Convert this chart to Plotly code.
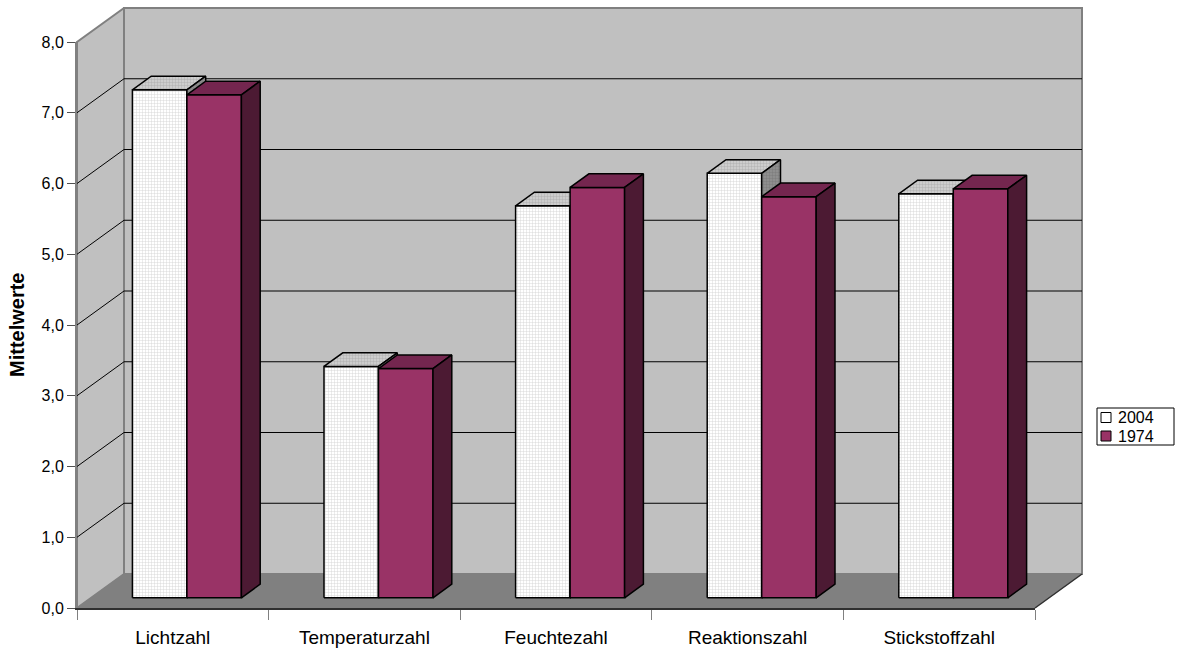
import plotly.graph_objects as go

# ---- data ----
categories = ["Lichtzahl", "Temperaturzahl", "Feuchtezahl", "Reaktionszahl", "Stickstoffzahl"]
series_names = ["2004", "1974"]
values_2004 = [7.18, 3.27, 5.54, 6.00, 5.71]
values_1974 = [7.11, 3.24, 5.80, 5.67, 5.78]
y_ticks = [0, 1, 2, 3, 4, 5, 6, 7, 8]
y_title = "Mittelwerte"

# ---- geometry of the oblique 3D frame ----
W, H = 1181, 649
LEFT_PX, RIGHT_PX = 77, 1035      # front plane, horizontal extent
BOTTOM_PX, TOP_PX = 608, 42       # front plane, vertical extent (0 .. Y_MAX)
Y_MAX = y_ticks[-1]
N = len(categories)
px_per_cat = (RIGHT_PX - LEFT_PX) / N
px_per_val = (BOTTOM_PX - TOP_PX) / Y_MAX
DX = 47 / px_per_cat              # depth of the floor in data units
DY = 34 / px_per_val
BAR_W = 54.5 / px_per_cat
Z_FRONT, Z_BACK = 0.3, 0.7        # bars sit in the middle of the depth

FONT = "Liberation Sans, Arial, sans-serif"

# styles
WALL = "#c0c0c0"
WALL_EDGE = "#808080"
FLOOR = "#808080"
series_style = [
    dict(front=("#ffffff", "#cfcfcf"), top=("#cdcdcd", "#a8a8a8"), side=("#8e8e8e", "#767676"),
         legend="#ffffff"),
    dict(front=("#993366", None), top=("#74264f", None), side=("#4c1a33", None),
         legend="#993366"),
]

fig = go.Figure()


def polygon(xs, ys, fill, pattern_fg=None, line_color="black", line_width=1.5):
    xs = list(xs) + [xs[0]]
    ys = list(ys) + [ys[0]]
    kw = {}
    if pattern_fg is not None:
        kw["fillpattern"] = dict(shape="+", size=3, solidity=0.25,
                                 fgcolor=pattern_fg, bgcolor=fill, fillmode="replace")
    fig.add_trace(go.Scatter(
        x=xs, y=ys, mode="lines", fill="toself", fillcolor=fill,
        line=dict(color=line_color, width=line_width),
        hoverinfo="skip", showlegend=False, **kw))


def lines(xs, ys, color, width):
    fig.add_trace(go.Scatter(x=xs, y=ys, mode="lines",
                             line=dict(color=color, width=width),
                             hoverinfo="skip", showlegend=False))


# back wall, side wall, floor
polygon([DX, N + DX, N + DX, DX], [DY, DY, Y_MAX + DY, Y_MAX + DY], WALL,
        line_color=WALL_EDGE, line_width=2)
polygon([0, 0, DX, DX], [0, Y_MAX, Y_MAX + DY, DY], WALL,
        line_color=WALL_EDGE, line_width=2)
polygon([0, N, N + DX, DX], [0, 0, DY, DY], FLOOR, line_color=FLOOR, line_width=0.5)

# gridlines on back wall and side wall
gx, gy = [], []
for v in y_ticks[1:-1]:
    gx += [0, DX, N + DX, None]
    gy += [v, v + DY, v + DY, None]
lines(gx, gy, "black", 1)

# right edge of the floor
lines([N, N + DX], [0, DY], "#303030", 1.5)

# bars
fx, fy = Z_FRONT * DX, Z_FRONT * DY
bx, by = Z_BACK * DX, Z_BACK * DY
for i in range(N):
    for j, vals in enumerate([values_2004, values_1974]):
        v = vals[i]
        st = series_style[j]
        x0 = i + 0.5 - BAR_W + j * BAR_W
        x1 = x0 + BAR_W
        # front face
        polygon([x0 + fx, x1 + fx, x1 + fx, x0 + fx], [fy, fy, v + fy, v + fy],
                st["front"][0], st["front"][1])
        # top face
        polygon([x0 + fx, x1 + fx, x1 + bx, x0 + bx], [v + fy, v + fy, v + by, v + by],
                st["top"][0], st["top"][1])
        # right side face
        polygon([x1 + fx, x1 + bx, x1 + bx, x1 + fx], [fy, by, v + by, v + fy],
                st["side"][0], st["side"][1])

# front axes (ticks, labels, front edges)
fig.add_trace(go.Scatter(x=[None], y=[None], xaxis="x2", yaxis="y2",
                         showlegend=False, hoverinfo="skip"))

# legend box (paper coordinates, px converted)
LEG_BOX = (1097, 408, 1174, 445)
LEG_ROW_Y = [417.5, 436]
LEG_SQ_X = 1101
LEG_SQ = 10
shapes = [dict(type="rect", xref="paper", yref="paper",
               x0=LEG_BOX[0] / W, x1=LEG_BOX[2] / W,
               y0=1 - LEG_BOX[3] / H, y1=1 - LEG_BOX[1] / H,
               line=dict(color="black", width=1), fillcolor="white", layer="above")]
annotations = []
for name, st, ry in zip(series_names, series_style, LEG_ROW_Y):
    shapes.append(dict(type="rect", xref="paper", yref="paper",
                       x0=LEG_SQ_X / W, x1=(LEG_SQ_X + LEG_SQ) / W,
                       y0=1 - (ry + LEG_SQ / 2) / H, y1=1 - (ry - LEG_SQ / 2) / H,
                       line=dict(color="black", width=1), fillcolor=st["legend"],
                       layer="above"))
    annotations.append(dict(text=name, x=1116 / W, y=1 - ry / H, xref="paper", yref="paper",
                            xanchor="left", yanchor="middle", showarrow=False,
                            font=dict(family=FONT, size=16, color="black")))

annotations.append(dict(
    text="<b>" + y_title + "</b>", x=17 / W, y=1 - 325 / H,
    xref="paper", yref="paper", xanchor="center", yanchor="middle",
    textangle=-90, showarrow=False,
    font=dict(family=FONT, size=20, color="black"),
))

fig.update_layout(
    width=W, height=H,
    margin=dict(l=0, r=0, t=0, b=0, autoexpand=False),
    paper_bgcolor="white",
    plot_bgcolor="rgba(0,0,0,0)",
    separators=",.",
    font=dict(family=FONT, color="black"),
    hovermode=False,
    showlegend=False,
    xaxis=dict(domain=[0, 1], range=[-LEFT_PX / px_per_cat, (W - LEFT_PX) / px_per_cat],
               visible=False, fixedrange=True, automargin=False),
    yaxis=dict(domain=[0, 1], range=[-(H - BOTTOM_PX) / px_per_val, BOTTOM_PX / px_per_val],
               visible=False, fixedrange=True, automargin=False),
    xaxis2=dict(
        domain=[LEFT_PX / W, RIGHT_PX / W], range=[0, N], anchor="y2",
        showline=True, linecolor="#303030", linewidth=1.5,
        showgrid=False, zeroline=False, fixedrange=True, automargin=False,
        tickmode="array", tickvals=[i + 0.5 for i in range(N)], ticktext=categories,
        ticks="outside", ticklen=11, tickcolor="rgba(0,0,0,0)",
        tickfont=dict(family=FONT, size=19, color="black"),
        minor=dict(tickmode="linear", tick0=0, dtick=1, ticks="outside",
                   ticklen=10, tickwidth=1, tickcolor="#808080", showgrid=False),
    ),
    yaxis2=dict(
        domain=[1 - BOTTOM_PX / H, 1 - TOP_PX / H], range=[0, Y_MAX], anchor="x2",
        showline=True, linecolor="#808080", linewidth=2,
        showgrid=False, zeroline=False, fixedrange=True, automargin=False,
        tickmode="array", tickvals=y_ticks, tickformat=".1f",
        ticks="outside", ticklen=8, tickwidth=1, tickcolor="#505050",
        tickfont=dict(family=FONT, size=16, color="black"),
    ),
    shapes=shapes,
    annotations=annotations,
)

fig.write_html("out.html")
